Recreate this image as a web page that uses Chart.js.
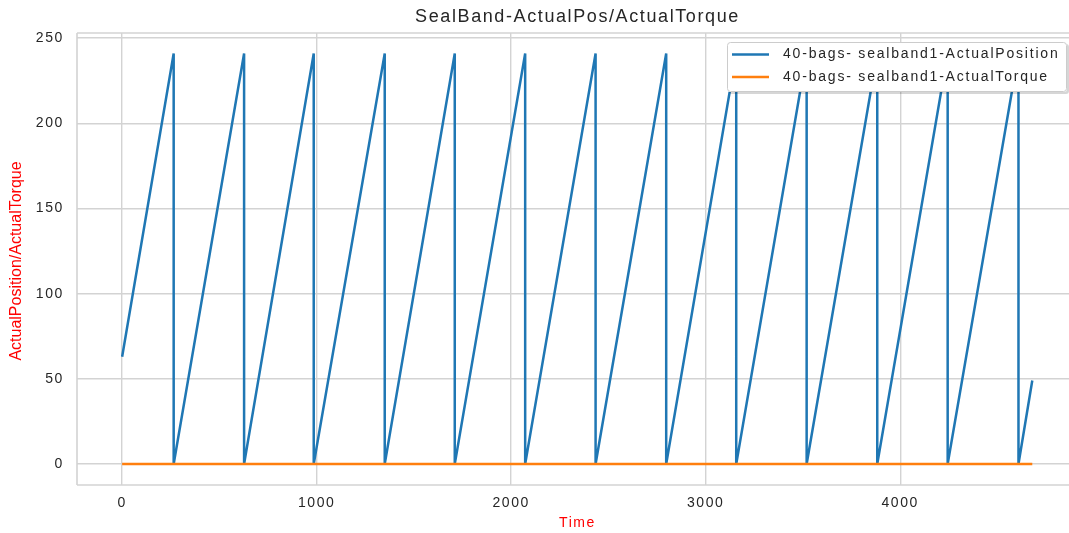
<!DOCTYPE html>
<html>
<head>
<meta charset="utf-8">
<script src="https://cdn.jsdelivr.net/npm/chart.js@4.4.1/dist/chart.umd.min.js"></script>
<style>
  html, body { margin: 0; padding: 0; background: #ffffff; overflow: hidden; width: 1069px; height: 533px; }
  #wrap { width: 1090px; height: 533px; }
</style>
</head>
<body>
<div id="wrap"><canvas id="c" width="1090" height="533"></canvas></div>
<script>
// ---- Data ----
const chartTitle = 'SealBand-ActualPos/ActualTorque';
const xAxisTitle = 'Time';
const yAxisTitle = 'ActualPosition/ActualTorque';
const seriesNames = ['40-bags- sealband1-ActualPosition', '40-bags- sealband1-ActualTorque'];

// Vertices of the sawtooth (time, position)
const positionTime = [0, 265, 265, 627, 627, 985, 985, 1350, 1350, 1710, 1710, 2072, 2072, 2434, 2434,
                      2797, 2797, 3157, 3157, 3519, 3519, 3882, 3882, 4244, 4244, 4608, 4608, 4679];
const positionValue = [63, 241, 0, 241, 0, 241, 0, 241, 0, 241, 0, 241, 0, 241, 0,
                       241, 0, 241, 0, 241, 0, 241, 0, 241, 0, 241, 0, 49];

const torqueTime = [0, 4679];
const torqueValue = [0, 0];

const xTicks = [0, 1000, 2000, 3000, 4000];
const yTicks = [0, 50, 100, 150, 200, 250];

const seriesColors = ['#1f77b4', '#ff7f0e'];

// ---- build datasets ----
const posPoints = positionTime.map((t, i) => ({ x: t, y: positionValue[i] }));
const torquePoints = torqueTime.map((t, i) => ({ x: t, y: torqueValue[i] }));

const GRID = '#d3d3d3';
const TEXT = '#262626';
const FONT = '"Liberation Sans", Arial, Helvetica, sans-serif';
const SPACING = '1.6px';

const spacingPlugin = {
  id: 'spacing',
  beforeUpdate(chart) { chart.ctx.letterSpacing = SPACING; },
  beforeLayout(chart) { chart.ctx.letterSpacing = SPACING; },
  beforeDraw(chart) { chart.ctx.letterSpacing = SPACING; }
};

const framePlugin = {
  id: 'frame',
  beforeDatasetsDraw(chart) {
    const { ctx, chartArea: a } = chart;
    ctx.save();
    ctx.strokeStyle = GRID;
    ctx.lineWidth = 1.6;
    ctx.beginPath();
    ctx.moveTo(a.left, a.top); ctx.lineTo(a.right, a.top);
    ctx.moveTo(a.left, a.top); ctx.lineTo(a.left, a.bottom);
    ctx.moveTo(a.left, a.bottom); ctx.lineTo(a.right, a.bottom);
    ctx.stroke();
    ctx.restore();
  }
};

const yTitlePlugin = {
  id: 'yTitle',
  afterDraw(chart) {
    const { ctx, chartArea: a } = chart;
    ctx.save();
    ctx.letterSpacing = '0px';
    ctx.font = '16px ' + FONT;
    ctx.fillStyle = '#ff0000';
    ctx.textAlign = 'center';
    ctx.textBaseline = 'middle';
    ctx.translate(17, (a.top + a.bottom) / 2 + 2);
    ctx.rotate(-Math.PI / 2);
    ctx.fillText(yAxisTitle, 0, 0);
    ctx.restore();
  }
};

const legendPlugin = {
  id: 'innerLegend',
  afterDatasetsDraw(chart) {
    const { ctx } = chart;
    const x = 727, y = 42, w = 340, h = 50;
    ctx.save();
    ctx.letterSpacing = '1.8px';
    ctx.fillStyle = 'rgba(0,0,0,0.16)';
    roundRect(ctx, x + 2, y + 2, w, h, 3); ctx.fill();
    ctx.fillStyle = '#ffffff';
    roundRect(ctx, x, y, w, h, 3); ctx.fill();
    ctx.strokeStyle = '#cccccc';
    ctx.lineWidth = 1;
    roundRect(ctx, x + 0.5, y + 0.5, w - 1, h - 1, 3); ctx.stroke();
    ctx.font = '14px ' + FONT;
    ctx.textBaseline = 'middle';
    ctx.fillStyle = TEXT;
    chart.data.datasets.forEach((ds, i) => {
      const ly = y + 12.5 + i * 22.5;
      ctx.strokeStyle = ds.borderColor;
      ctx.lineWidth = 2.4;
      ctx.beginPath();
      ctx.moveTo(x + 5, ly); ctx.lineTo(x + 42, ly);
      ctx.stroke();
      ctx.fillText(ds.label, x + 56, ly);
    });
    ctx.restore();
  }
};
function roundRect(ctx, x, y, w, h, r) {
  ctx.beginPath();
  ctx.moveTo(x + r, y);
  ctx.lineTo(x + w - r, y); ctx.quadraticCurveTo(x + w, y, x + w, y + r);
  ctx.lineTo(x + w, y + h - r); ctx.quadraticCurveTo(x + w, y + h, x + w - r, y + h);
  ctx.lineTo(x + r, y + h); ctx.quadraticCurveTo(x, y + h, x, y + h - r);
  ctx.lineTo(x, y + r); ctx.quadraticCurveTo(x, y, x + r, y);
  ctx.closePath();
}

new Chart(document.getElementById('c'), {
  type: 'line',
  data: {
    datasets: [
      { label: seriesNames[0], data: posPoints, borderColor: seriesColors[0], backgroundColor: seriesColors[0],
        borderWidth: 2.5, pointRadius: 0, tension: 0, order: 1 },
      { label: seriesNames[1], data: torquePoints, borderColor: seriesColors[1], backgroundColor: seriesColors[1],
        borderWidth: 2.5, pointRadius: 0, tension: 0, order: 0 }
    ]
  },
  options: {
    responsive: false,
    devicePixelRatio: 1,
    animation: false,
    layout: { padding: { left: 0, right: 12, top: 0, bottom: 0 } },
    plugins: {
      legend: { display: false },
      tooltip: { enabled: false },
      title: {
        display: true, text: chartTitle, color: TEXT, fullSize: false,
        font: { family: FONT, size: 18, weight: 'normal' },
        padding: { top: 6, bottom: 5.4 }
      }
    },
    scales: {
      x: {
        type: 'linear', min: -232, max: 4914,
        afterBuildTicks: s => { s.ticks = xTicks.map(v => ({ value: v })); },
        afterFit: s => { s.height = 48; },
        grid: { color: GRID, lineWidth: 1.4, drawTicks: false },
        border: { display: false },
        ticks: { color: TEXT, font: { family: FONT, size: 14 }, padding: 10, maxRotation: 0,
                 callback: v => String(v) },
        title: { display: true, text: xAxisTitle, color: '#ff0000', font: { family: FONT, size: 14 }, padding: { top: 0, bottom: 1.5 } }
      },
      y: {
        type: 'linear', min: -12.3, max: 253,
        afterBuildTicks: s => { s.ticks = yTicks.map(v => ({ value: v })); },
        afterFit: s => { s.width = 77; },
        grid: { color: GRID, lineWidth: 1.4, drawTicks: false },
        border: { display: false },
        ticks: { color: TEXT, font: { family: FONT, size: 14 }, padding: 13, callback: v => String(v) },
        title: { display: false, text: yAxisTitle }
      }
    }
  },
  plugins: [spacingPlugin, framePlugin, legendPlugin, yTitlePlugin]
});
</script>
</body>
</html>
